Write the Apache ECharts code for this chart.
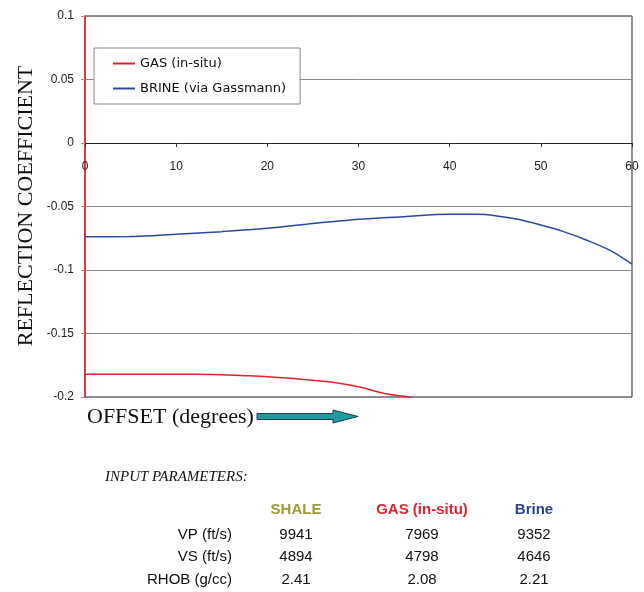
<!DOCTYPE html>
<html>
<head>
<meta charset="utf-8">
<script src="https://cdn.jsdelivr.net/npm/echarts@6/dist/echarts.min.js"></script>
<style>
html,body{margin:0;padding:0;background:#fff;}
#c{width:644px;height:592px;}
</style>
</head>
<body>
<div id="c"></div>
<script>
// ---- data ----
var brineOffsets = [0, 5, 7.5, 10, 15, 20, 25, 27, 30, 35, 40, 43, 45, 47.5, 50, 52.5, 55, 57.5, 60];
var brineValues  = [-0.0738, -0.0737, -0.0730, -0.0719, -0.0698, -0.0672, -0.0634, -0.0620, -0.0600, -0.0580, -0.0562, -0.0562, -0.0572, -0.0600, -0.0646, -0.0698, -0.0764, -0.0842, -0.0953];
var gasOffsets = [0, 5, 10, 14, 17.5, 20, 22.5, 25, 27, 30, 33, 35, 36, 38];
var gasValues  = [-0.1821, -0.1821, -0.1821, -0.1822, -0.1832, -0.1840, -0.1852, -0.1868, -0.1882, -0.1920, -0.1975, -0.1995, -0.2010, -0.2050];
var seriesNames = ['GAS (in-situ)', 'BRINE (via Gassmann)'];
var xTicks = [0, 10, 20, 30, 40, 50, 60];
var yTicks = [-0.2, -0.15, -0.1, -0.05, 0, 0.05, 0.1];

var tableColumns = ['SHALE', 'GAS (in-situ)', 'Brine'];
var tableRows = ['VP (ft/s)', 'VS (ft/s)', 'RHOB (g/cc)'];
var shaleVals = ['9941', '4894', '2.41'];
var gasVals   = ['7969', '4798', '2.08'];
var brineVals = ['9352', '4646', '2.21'];

function pairs(xs, ys){ return xs.map(function(x,i){ return [x, ys[i]]; }); }

var chart = echarts.init(document.getElementById('c'), null, {renderer:'canvas'});

var colColors = ['#a09a32', '#e8202e', '#2a3f9a'];
var colX = [296, 422, 534];
var rowY = [535, 557, 580];
var valCols = [shaleVals, gasVals, brineVals];

var graphics = [];
graphics.push({type:'text', x:26, y:206, rotation:Math.PI/2, style:{text:'REFLECTION COEFFICIENT', font:'22px "Liberation Serif"', fill:'#111', align:'center', verticalAlign:'middle'}});
graphics.push({type:'text', x:87, y:417, style:{text:'OFFSET (degrees)', font:'22px "Liberation Serif"', fill:'#111', align:'left', verticalAlign:'middle'}});
graphics.push({type:'polygon', shape:{points:[[257,413.5],[333,413.5],[333,410],[358,416.5],[333,423],[333,419.5],[257,419.5]]}, style:{fill:'#1f9a9e', stroke:'#1b3d50', lineWidth:1}});
graphics.push({type:'text', x:105, y:477, style:{text:'INPUT PARAMETERS:', font:'italic 15px "Liberation Serif"', fill:'#111', align:'left', verticalAlign:'middle'}});
tableColumns.forEach(function(t,i){
  graphics.push({type:'text', x:colX[i], y:510, style:{text:t, font:'bold 15px "Liberation Sans"', fill:colColors[i], align:'center', verticalAlign:'middle'}});
});
tableRows.forEach(function(t,r){
  graphics.push({type:'text', x:232, y:rowY[r], style:{text:t, font:'15px "Liberation Sans"', fill:'#111', align:'right', verticalAlign:'middle'}});
  valCols.forEach(function(col,c){
    graphics.push({type:'text', x:colX[c], y:rowY[r], style:{text:col[r], font:'15px "Liberation Sans"', fill:'#111', align:'center', verticalAlign:'middle'}});
  });
});

chart.setOption({
  animation:false,
  backgroundColor:'#fff',
  grid:{left:85, top:16, right:12, bottom:195, show:true, borderColor:'#222', borderWidth:1, backgroundColor:'transparent'},
  legend:{
    left:94, top:48, orient:'vertical', itemGap:12, itemWidth:22, itemHeight:2, icon:'rect',
    padding:[9,14,9,19], borderColor:'#888', borderWidth:1, backgroundColor:'#fff',
    textStyle:{fontFamily:'DejaVu Sans', fontSize:13, color:'#111'},
    data:seriesNames
  },
  xAxis:{
    type:'value', min:xTicks[0], max:xTicks[xTicks.length-1], interval:10,
    position:'bottom', offset:-254,
    axisLine:{onZero:false, lineStyle:{color:'#222', width:1}},
    axisTick:{show:true, length:4, lineStyle:{color:'#333'}},
    axisLabel:{margin:18, fontFamily:'Liberation Sans', fontSize:12, color:'#222'},
    splitLine:{show:false}
  },
  yAxis:{
    type:'value', min:yTicks[0], max:yTicks[yTicks.length-1], interval:0.05,
    axisLine:{show:true, onZero:false, lineStyle:{color:'#e8202e', width:1.5}},
    axisTick:{show:true, length:4, lineStyle:{color:'#ee8070'}},
    axisLabel:{margin:11, fontFamily:'Liberation Sans', fontSize:12, color:'#222', formatter:function(v){ return String(Math.round(v*100)/100); }},
    splitLine:{show:true, lineStyle:{color:'#8a8a8a', width:1}}
  },
  series:[
    {name:seriesNames[0], type:'line', data:pairs(gasOffsets, gasValues), showSymbol:false, symbol:'none', smooth:0.3, clip:true,
     lineStyle:{color:'#e8202e', width:1.5}, itemStyle:{color:'#e8202e'}},
    {name:seriesNames[1], type:'line', data:pairs(brineOffsets, brineValues), showSymbol:false, symbol:'none', smooth:0.3, clip:true,
     lineStyle:{color:'#2a4aa0', width:1.5}, itemStyle:{color:'#2a4aa0'}}
  ],
  graphic:graphics
});
</script>
</body>
</html>
